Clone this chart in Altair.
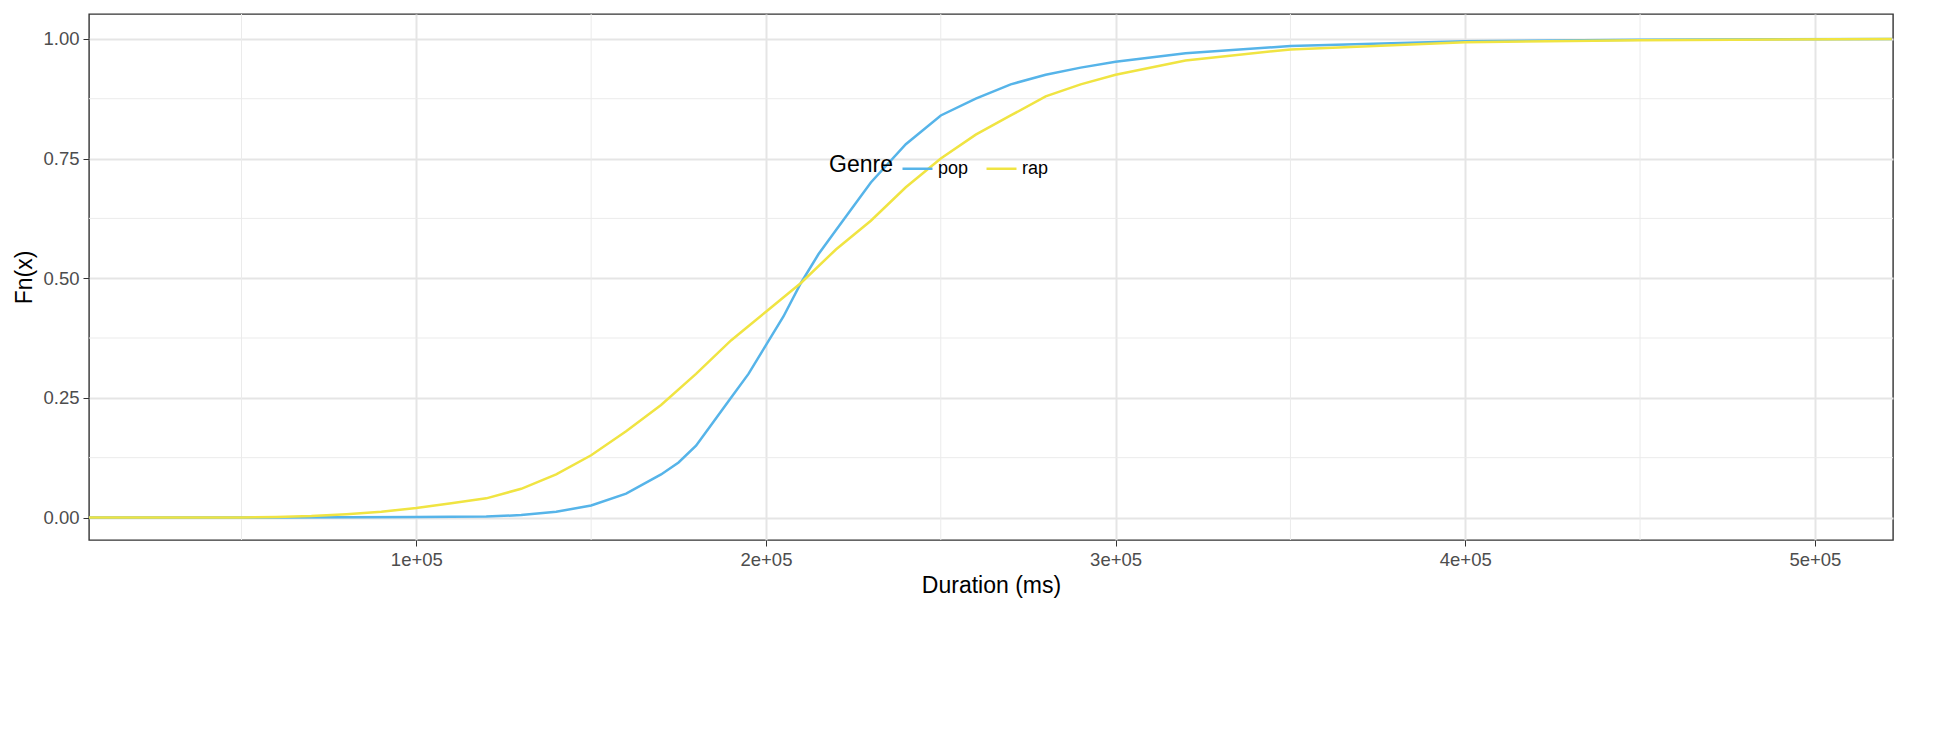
import altair as alt
import pandas as pd

# ECDF values
pop_x = [6400, 60000, 100000, 120000, 130000, 140000, 150000, 160000, 170000, 175000, 180000, 185000,
         190000, 195000, 200000, 205000, 210000, 215000, 220000, 230000, 240000, 250000, 260000,
         270000, 280000, 290000, 300000, 320000, 350000, 400000, 450000, 522000]
pop_y = [0, 0, 0.001, 0.002, 0.005, 0.012, 0.025, 0.05, 0.09, 0.115, 0.15, 0.2,
         0.25, 0.3, 0.36, 0.42, 0.49, 0.55, 0.6, 0.7, 0.78, 0.84, 0.875,
         0.905, 0.925, 0.94, 0.952, 0.97, 0.985, 0.995, 0.998, 1.0]
rap_x = [6400, 50000, 60000, 70000, 80000, 90000, 100000, 110000, 120000, 130000, 140000, 150000,
         160000, 170000, 180000, 190000, 200000, 210000, 220000, 230000, 240000, 250000, 260000,
         270000, 280000, 290000, 300000, 320000, 350000, 400000, 450000, 522000]
rap_y = [0, 0, 0.001, 0.003, 0.007, 0.012, 0.02, 0.03, 0.04, 0.06, 0.09, 0.13,
         0.18, 0.235, 0.3, 0.37, 0.43, 0.49, 0.56, 0.62, 0.69, 0.75, 0.8,
         0.84, 0.88, 0.905, 0.925, 0.955, 0.978, 0.993, 0.997, 1.0]

minor_x = [50000, 150000, 250000, 350000, 450000]
minor_y = [0.125, 0.375, 0.625, 0.875]

df = pd.concat([
    pd.DataFrame({"x": pop_x, "y": pop_y, "Genre": "pop"}),
    pd.DataFrame({"x": rap_x, "y": rap_y, "Genre": "rap"}),
])

xs = alt.Scale(domain=[6383, 522340], nice=False, zero=False)
ys = alt.Scale(domain=[-0.047, 1.052], nice=False)

vminor = alt.Chart(pd.DataFrame({"x": minor_x})).mark_rule(color="#EBEBEB", strokeWidth=1).encode(
    x=alt.X("x:Q", scale=xs))
hminor = alt.Chart(pd.DataFrame({"y": minor_y})).mark_rule(color="#EBEBEB", strokeWidth=1).encode(
    y=alt.Y("y:Q", scale=ys))

lines = alt.Chart(df).mark_line(strokeWidth=2.5).encode(
    x=alt.X("x:Q", scale=xs, title="Duration (ms)",
            axis=alt.Axis(values=[100000, 200000, 300000, 400000, 500000],
                          labelExpr="format(datum.value/100000, 'd') + 'e+05'")),
    y=alt.Y("y:Q", scale=ys, title="Fn(x)",
            axis=alt.Axis(values=[0, 0.25, 0.5, 0.75, 1.0], format=".2f")),
    color=alt.Color("Genre:N", scale=alt.Scale(domain=["pop", "rap"], range=["#56B4E9", "#F0E442"]),
                    legend=alt.Legend(orient="none", legendX=740, legendY=138,
                                      direction="horizontal", titleOrient="left",
                                      symbolType="stroke", symbolStrokeWidth=2.5, symbolSize=900,
                                      titleFontSize=23, labelFontSize=18, titleFontWeight="normal",
                                      titleColor="black", labelColor="black", titlePadding=8,
                                      columnPadding=12)),
)

chart = (vminor + hminor + lines).properties(
    width=1804, height=526, background="white"
).configure_axis(
    gridColor="#E5E5E5", gridWidth=2, domain=False, tickColor="#333333", tickSize=6,
    labelFontSize=18.5, labelColor="#4D4D4D", titleFontSize=23, titleFontWeight="normal",
    titleColor="black", labelFont="Liberation Sans", titleFont="Liberation Sans",
    labelPadding=4, titlePadding=6,
).configure_legend(labelFont="Liberation Sans", titleFont="Liberation Sans").configure_view(
    stroke="#333333", strokeWidth=1.4
)

chart.save("out.html", embed_options={"renderer": "svg", "actions": False})
